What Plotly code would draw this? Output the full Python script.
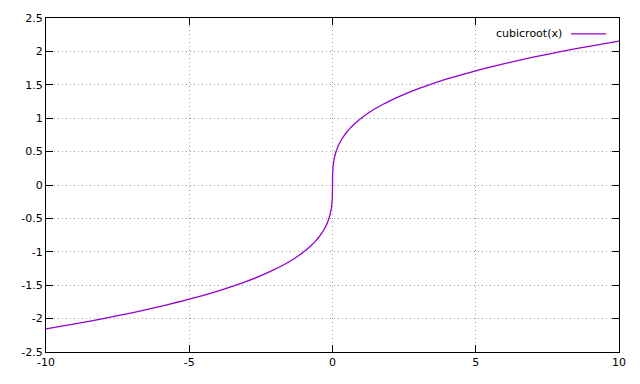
import plotly.graph_objects as go

x_pos = [0.001, 0.003, 0.008, 0.015, 0.03, 0.05, 0.08, 0.12, 0.17, 0.23, 0.3, 0.4,
         0.5, 0.6, 0.7, 0.85, 1.0, 1.25, 1.5, 1.75, 2.0, 2.5, 3.0, 3.5, 4.0,
         5.0, 6.0, 7.0, 8.0, 9.0, 10.0]
y_pos = [0.1, 0.1442, 0.2, 0.2466, 0.3107, 0.3684, 0.4309, 0.4932, 0.5540, 0.6127, 0.6694, 0.7368,
         0.7937, 0.8434, 0.8879, 0.9473, 1.0, 1.0772, 1.1447, 1.2051, 1.2599, 1.3572, 1.4422, 1.5183, 1.5874,
         1.7100, 1.8171, 1.9129, 2.0, 2.0801, 2.1544]
x_vals = [-v for v in reversed(x_pos)] + [0.0] + x_pos
y_vals = [-v for v in reversed(y_pos)] + [0.0] + y_pos

x_ticks = [-10, -5, 0, 5, 10]
x_labels = ["-10", "-5", "0", "5", "10"]
y_ticks = [-2.5, -2, -1.5, -1, -0.5, 0, 0.5, 1, 1.5, 2, 2.5]
y_labels = ["-2.5", "-2", "-1.5", "-1", "-0.5", "0", "0.5", "1", "1.5", "2", "2.5"]
series_name = "cubicroot(x)"

color = "#9400D3"
font = dict(family="DejaVu Sans", size=11, color="black")

fig = go.Figure()
fig.add_trace(go.Scatter(x=x_vals, y=y_vals, mode="lines", name=series_name,
                         line=dict(color=color, width=1.3, shape="spline", smoothing=0.6),
                         showlegend=False))

axis_common = dict(showline=True, linecolor="black", linewidth=1, mirror="ticks",
                   ticks="inside", ticklen=7, tickcolor="black", tickwidth=1,
                   showgrid=True, gridcolor="#a0a0a0", griddash="1px,3px", gridwidth=1,
                   zeroline=False, tickfont=font)

fig.update_layout(
    width=640, height=384,
    margin=dict(l=46, r=21, t=16, b=32),
    paper_bgcolor="white", plot_bgcolor="white",
    font=font,
    xaxis=dict(range=[-10, 10], tickvals=x_ticks, ticktext=x_labels, **axis_common),
    yaxis=dict(range=[-2.5, 2.5], tickvals=y_ticks, ticktext=y_labels, **axis_common),
)

# gnuplot-style key: text on the left, line sample on the right
fig.add_annotation(xref="paper", yref="paper", x=0.904, y=0.9524, text=series_name,
                   showarrow=False, xanchor="right", yanchor="middle", font=font)
fig.add_shape(type="line", xref="paper", yref="paper", x0=0.9162, x1=0.9773,
              y0=0.9524, y1=0.9524, line=dict(color=color, width=1.3))

fig.write_html("out.html")
